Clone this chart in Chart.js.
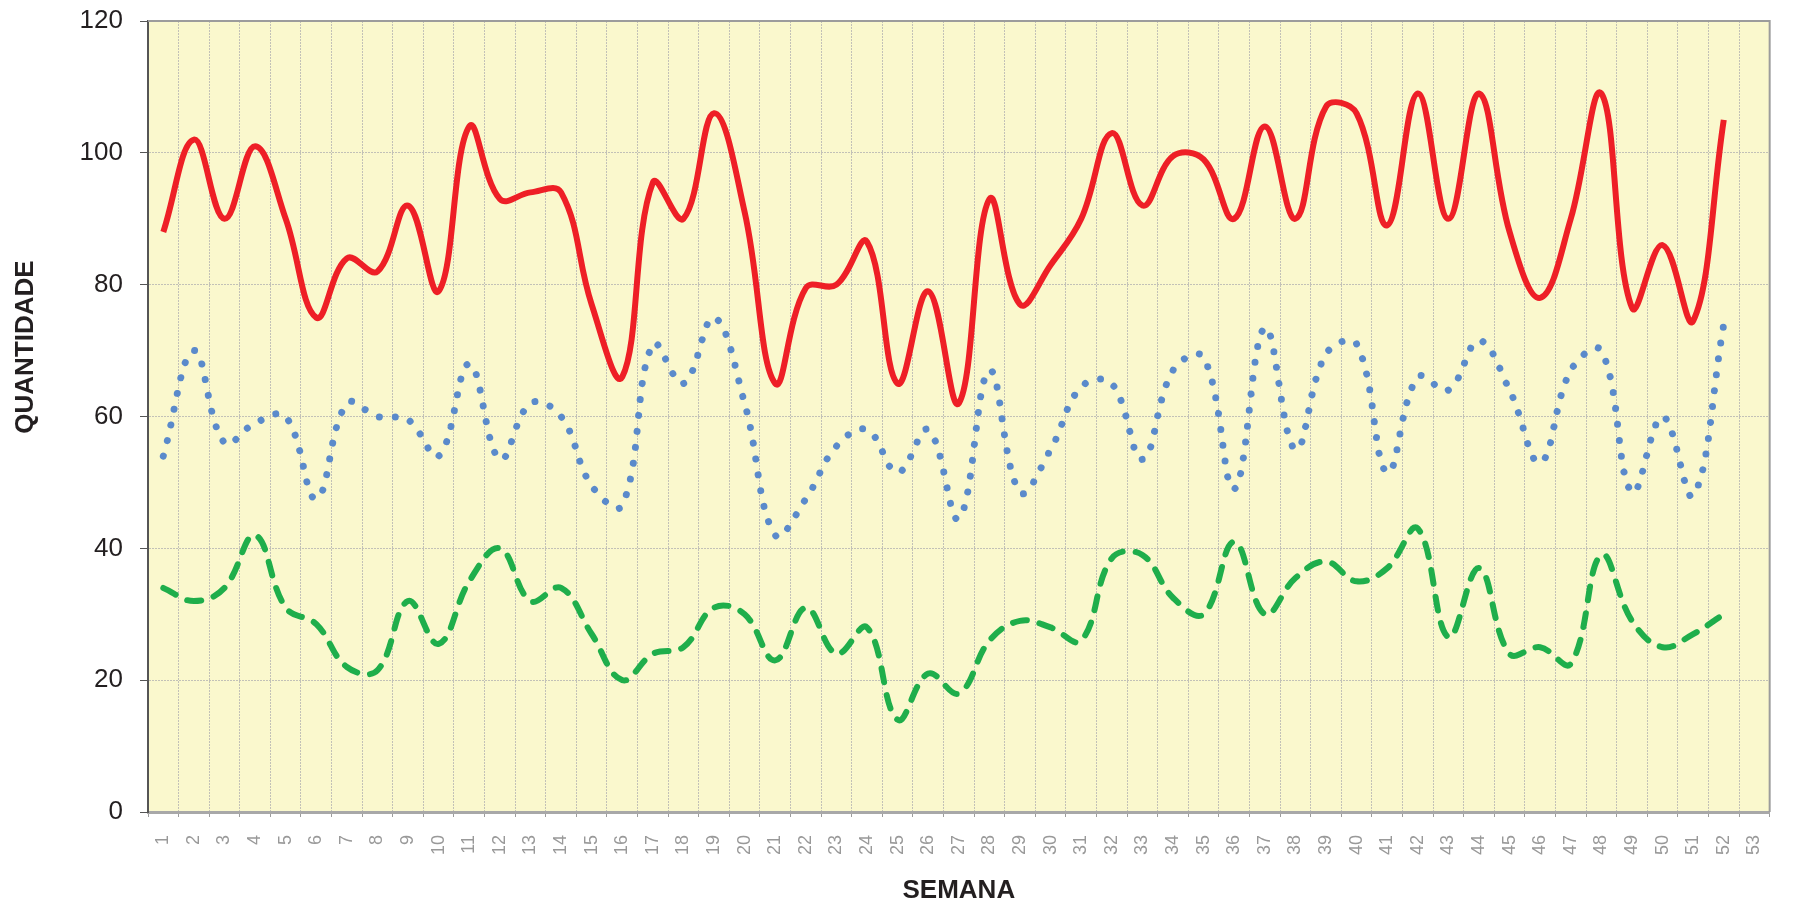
<!DOCTYPE html>
<html>
<head>
<meta charset="utf-8">
<script src="https://cdn.jsdelivr.net/npm/chart.js@4"></script>
<style>
  body { margin: 0; background: #fff; }
  #grafico { display: block; }
</style>
</head>
<body>
<canvas id="grafico" width="1794" height="904"></canvas>
<script>
// Semanas (eixo X) - 53 categorias, dados só até a 52
const semanas = [];
for (let i = 1; i <= 53; i++) semanas.push(String(i));

// Série vermelha (linha contínua)
const serieVermelha = [
  88, 102, 90, 101, 90, 75, 84, 82, 92, 79,
  104, 93, 94, 94, 77, 66, 95.5, 90, 106, 91,
  65, 79.5, 80, 86.5, 65, 79, 62, 93, 77, 83,
  90, 103, 92, 99.5, 99, 90, 104, 90, 107, 106,
  89, 109, 90, 109, 88, 78, 90, 109, 76.5, 86,
  74.5, 105
];

// Série azul (pontilhada)
const serieAzul = [
  54, 70, 56, 59, 60, 47.5, 62, 60, 59.5, 54,
  68, 53.5, 62, 60, 49.5, 46.5, 71, 65, 75, 62,
  42, 47.5, 55.5, 58, 51.5, 58, 44.5, 67, 48.5, 55,
  64.5, 65, 53.5, 67, 69, 49, 73.5, 55, 69.5, 71,
  51.5, 66, 64, 71.5, 64, 53, 67, 70, 48.5, 60,
  48, 74
];

// Série verde (tracejada)
const serieVerde = [
  34, 32, 34, 42, 31, 28.5, 22, 21.5, 32, 25.5,
  35, 40, 32, 34, 27, 20, 24, 25, 31, 30,
  23, 31, 24, 28, 14, 21, 18, 26, 29, 28,
  26, 38.5, 39, 32.5, 30, 41, 30, 35.5, 38, 35,
  37, 43, 26.5, 37, 24, 25, 22.5, 39, 29, 25,
  27, 30
];

const fonte = 'Liberation Sans, Arial, sans-serif';
const corTexto = '#231f20';
const corGrade = 'rgba(175,175,175,0.75)';

// fundo amarelo, moldura superior/direita e título do eixo Y
const fundoPlugin = {
  id: 'fundo',
  beforeDraw(chart) {
    const { ctx, chartArea: a } = chart;
    ctx.save();
    ctx.fillStyle = '#faf8cd';
    ctx.fillRect(a.left, a.top, a.right - a.left, a.bottom - a.top);
    ctx.restore();
  },
  beforeDatasetsDraw(chart) {
    const { ctx, chartArea: a } = chart;
    ctx.save();
    ctx.strokeStyle = '#9c9c9c';
    ctx.lineWidth = 2;
    ctx.beginPath();
    ctx.moveTo(a.left, a.top);
    ctx.lineTo(a.right, a.top);
    ctx.lineTo(a.right, a.bottom);
    ctx.stroke();
    ctx.restore();
  },
  afterDraw(chart) {
    const { ctx } = chart;
    ctx.save();
    ctx.translate(26, 347);
    ctx.rotate(-Math.PI / 2);
    ctx.font = 'bold 26px ' + fonte;
    ctx.fillStyle = corTexto;
    ctx.textAlign = 'center';
    ctx.textBaseline = 'middle';
    ctx.fillText('QUANTIDADE', 0, 0);
    ctx.restore();
  }
};

const ctx = document.getElementById('grafico').getContext('2d');

const grafico = new Chart(ctx, {
  type: 'line',
  data: {
    labels: semanas,
    datasets: [
      {
        label: 'Verde',
        data: serieVerde,
        borderColor: '#1fae4b',
        borderWidth: 6,
        borderDash: [14, 13],
        borderCapStyle: 'round',
        tension: 0.4,
        pointRadius: 0,
        fill: false
      },
      {
        label: 'Azul',
        data: serieAzul,
        borderColor: '#5a8acb',
        borderWidth: 7,
        borderDash: [0.001, 16],
        borderCapStyle: 'round',
        tension: 0.4,
        pointRadius: 0,
        fill: false
      },
      {
        label: 'Vermelha',
        data: serieVermelha,
        borderColor: '#ee1f26',
        borderWidth: 6,
        tension: 0.4,
        pointRadius: 0,
        fill: false
      }
    ]
  },
  options: {
    responsive: false,
    animation: false,
    devicePixelRatio: 1,
    layout: { padding: { top: 21, right: 4, left: 0, bottom: 0 } },
    plugins: {
      legend: { display: false },
      tooltip: { enabled: false }
    },
    scales: {
      x: {
        type: 'category',
        offset: true,
        grid: {
          offset: true,
          color: corGrade,
          lineWidth: 1,
          tickLength: 5,
          tickColor: '#9c9c9c'
        },
        border: { display: true, color: '#a8a8a8', width: 3, dash: [2, 1] },
        ticks: {
          autoSkip: false,
          minRotation: 90,
          maxRotation: 90,
          padding: 18,
          color: '#999999',
          font: { family: fonte, size: 18 }
        },
        title: {
          display: true,
          text: 'SEMANA',
          color: corTexto,
          font: { family: fonte, size: 26, weight: 'bold', lineHeight: 1 },
          padding: { top: 0, bottom: 0 }
        },
        afterFit(escala) { escala.height = 92; }
      },
      y: {
        min: 0,
        max: 120,
        grid: {
          color: corGrade,
          lineWidth: 1,
          tickLength: 8,
          tickColor: '#555'
        },
        border: { display: true, color: '#555', width: 2, dash: [2, 1] },
        ticks: {
          stepSize: 20,
          padding: 17,
          color: corTexto,
          font: { family: fonte, size: 26 }
        },
        afterFit(escala) {
          escala.width = 148;
          escala.paddingTop = 0;
          escala.paddingBottom = 0;
        }
      }
    }
  },
  plugins: [fundoPlugin]
});
</script>
</body>
</html>
